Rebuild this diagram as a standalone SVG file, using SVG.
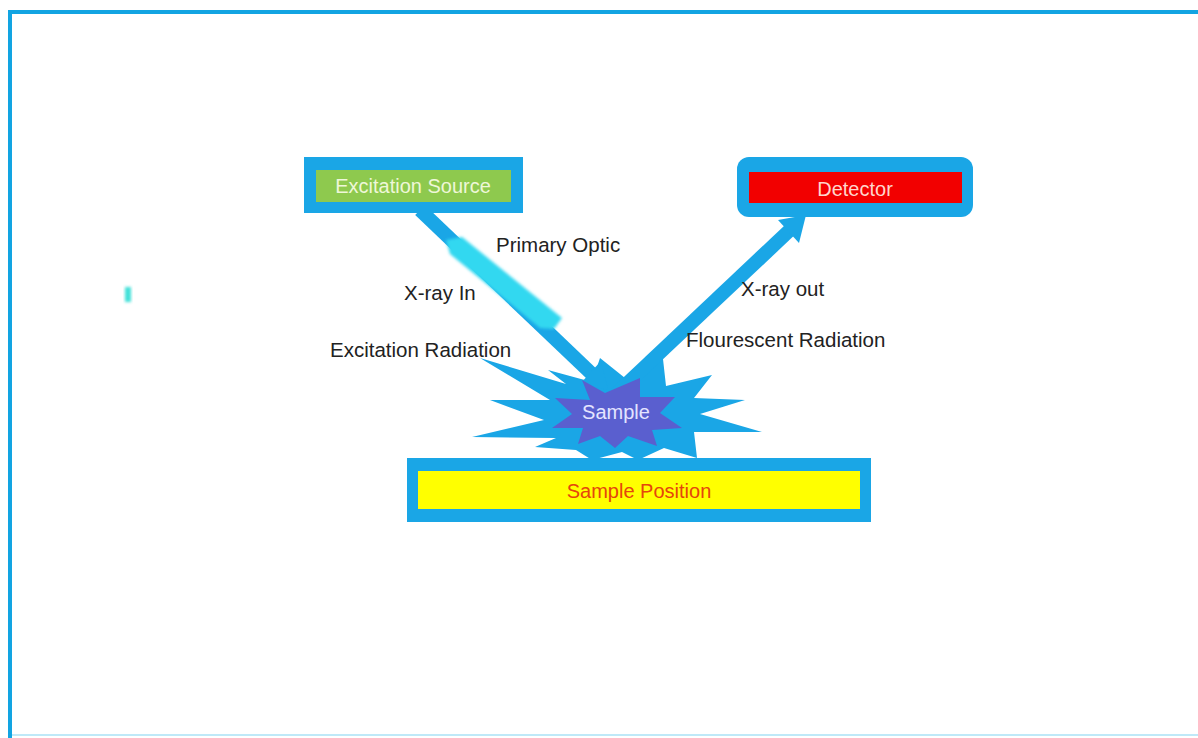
<svg xmlns="http://www.w3.org/2000/svg" width="1198" height="738" viewBox="0 0 1198 738">
  <style>
    .lbl { font-family: "Liberation Sans", Arial, sans-serif; font-size: 20.5px; fill: #222222; }
    .box-text { font-family: "Liberation Sans", Arial, sans-serif; font-size: 20px; text-anchor: middle; }
    .frame-blue { fill: #1aa6e6; }
    .ray { stroke: #1aa6e6; stroke-width: 14; fill: none; }
  </style>
  <defs>
    <filter id="soft" x="-20%" y="-20%" width="140%" height="140%">
      <feGaussianBlur stdDeviation="1.8"/>
    </filter>
  </defs>

  <rect width="1198" height="738" fill="#ffffff"/>

  <!-- page frame -->
  <g id="frame">
    <rect x="8" y="10" width="1190" height="4" fill="#12a4e2"/>
    <rect x="8" y="10" width="4" height="728" fill="#12a4e2"/>
    <rect x="12" y="734" width="1186" height="2" fill="#bfe9f8"/>
    <rect x="125" y="287" width="6" height="15" fill="#3fe0d8" filter="url(#soft)"/>
  </g>

  <!-- sample: outer burst -->
  <g id="sample-burst">
    <polygon class="frame-blue" points="600,358 630,382 662,350 666,386 712,375 694,398 745,400 700,414 762,432 694,432 697,458 664,448 638,460 622,452 592,460 576,450 535,447 556,438 472,437 544,420 490,400 550,400 480,358 566,384 548,370 592,382"/>
  </g>

  <!-- connectors -->
  <g id="connectors">
    <!-- X-ray in -->
    <line class="ray" x1="420" y1="210" x2="594" y2="376"/>
    <polygon class="frame-blue" points="608,390 580,384 601,361"/>
    <!-- primary optic on the incoming beam -->
    <polygon points="446,240 462,237 562,318 554,329 540,328 450,254" fill="#33d8f0" filter="url(#soft)"/>
    <!-- X-ray out -->
    <line class="ray" x1="616" y1="394" x2="792" y2="228"/>
    <polygon class="frame-blue" points="806,215 799,243 778,220"/>
  </g>

  <!-- sample: inner burst and label -->
  <g id="sample">
    <polygon fill="#5a5fcf" points="582,380 605,393 640,378 640,397 675,397 660,413 682,428 652,430 657,446 628,436 615,448 600,436 578,444 583,428 552,428 572,414 555,398 590,400"/>
    <text class="box-text" x="616" y="419" fill="#e4e4ff">Sample</text>
  </g>

  <!-- excitation source -->
  <g id="excitation-source">
    <rect x="304" y="157" width="219" height="56" fill="#1aa6e6"/>
    <rect x="316" y="170" width="195" height="32" fill="#8ec94e"/>
    <text class="box-text" x="413" y="193" fill="#eef7d8">Excitation Source</text>
  </g>

  <!-- detector -->
  <g id="detector">
    <rect x="737" y="157" width="236" height="60" rx="12" fill="#1aa6e6"/>
    <rect x="749" y="172" width="213" height="31" fill="#f20000"/>
    <text class="box-text" x="855" y="196" fill="#ffd6cc">Detector</text>
  </g>

  <!-- sample position -->
  <g id="sample-position">
    <rect x="407" y="458" width="464" height="64" fill="#1aa6e6"/>
    <rect x="418" y="471" width="442" height="38" fill="#ffff00"/>
    <text class="box-text" x="639" y="498" fill="#e5450c">Sample Position</text>
  </g>

  <!-- beam labels -->
  <g id="labels">
    <text class="lbl" x="496" y="252">Primary Optic</text>
    <text class="lbl" x="404" y="300">X-ray In</text>
    <text class="lbl" x="330" y="357">Excitation Radiation</text>
    <text class="lbl" x="741" y="296">X-ray out</text>
    <text class="lbl" x="686" y="347">Flourescent Radiation</text>
  </g>
</svg>
